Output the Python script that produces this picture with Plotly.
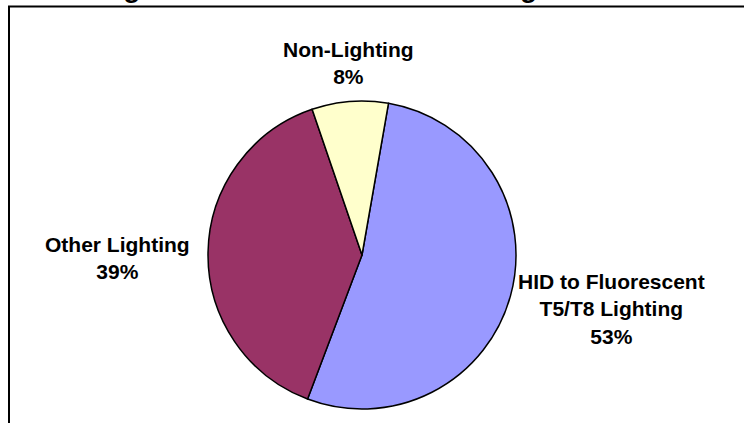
import plotly.graph_objects as go

# Share of gross savings by measure group
categories = ["HID to Fluorescent<br>T5/T8 Lighting", "Other Lighting", "Non-Lighting"]
values = [53, 39, 8]
colors = ["#9999FF", "#993366", "#FFFFCC"]
title_text = "Percentage Breakdown of Gross Savings for Commercial Lighting"

W, H = 744, 423
FONT = "Liberation Sans, Arial, sans-serif"

# pie centre and radius in pixels
cx, cy, r = 362, 255, 154

fig = go.Figure(go.Pie(
    labels=categories,
    values=values,
    sort=False,
    direction="clockwise",
    rotation=9.9,
    marker=dict(colors=colors, line=dict(color="black", width=1.5)),
    textinfo="none",
    showlegend=False,
    domain=dict(x=[(cx - r) / W, (cx + r) / W],
                y=[1 - (cy + r) / H, 1 - (cy - r) / H]),
))

total = sum(values)
# label anchor points (pixels) for each slice
label_pos = [(611, 309), (117, 258), (348, 63)]
for name, v, (lx, ly) in zip(categories, values, label_pos):
    pct = round(100 * v / total)
    fig.add_annotation(
        x=lx / W, y=1 - ly / H, xref="paper", yref="paper",
        xanchor="center", yanchor="middle",
        text=f"<b>{name}<br>{pct}%</b>", showarrow=False, align="center",
        font=dict(family=FONT, size=21, color="black"),
    )

# chart title, mostly clipped above the frame
fig.add_annotation(
    x=3 / W, y=1 - 5.5 / H, xref="paper", yref="paper",
    xanchor="left", yanchor="bottom",
    text=f"<b>{title_text}</b>", showarrow=False,
    font=dict(family=FONT, size=28, color="black"),
)

# outer frame
fig.add_shape(type="rect", xref="paper", yref="paper",
              x0=9 / W, y0=-0.05, x1=1.05, y1=1 - 6.5 / H,
              line=dict(color="black", width=2), fillcolor="rgba(0,0,0,0)")

fig.update_layout(
    width=W, height=H,
    margin=dict(l=0, r=0, t=0, b=0),
    paper_bgcolor="white", plot_bgcolor="white",
)

fig.write_html("out.html")
